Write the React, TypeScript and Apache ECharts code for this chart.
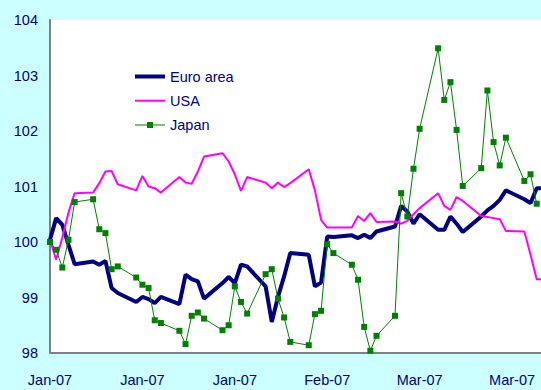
import React, { useEffect, useRef } from "react";
import * as echarts from "echarts";

const dates = [
  "2007-01-01", "2007-01-02", "2007-01-03", "2007-01-04", "2007-01-05",
  "2007-01-08", "2007-01-09", "2007-01-10", "2007-01-11", "2007-01-12",
  "2007-01-15", "2007-01-16", "2007-01-17", "2007-01-18", "2007-01-19",
  "2007-01-22", "2007-01-23", "2007-01-24", "2007-01-25", "2007-01-26",
  "2007-01-29", "2007-01-30", "2007-01-31", "2007-02-01", "2007-02-02",
  "2007-02-05", "2007-02-06", "2007-02-07", "2007-02-08", "2007-02-09",
  "2007-02-12", "2007-02-13", "2007-02-14", "2007-02-15", "2007-02-16",
  "2007-02-19", "2007-02-20", "2007-02-21", "2007-02-22", "2007-02-23",
  "2007-02-26", "2007-02-27", "2007-02-28", "2007-03-01", "2007-03-02",
  "2007-03-05", "2007-03-06", "2007-03-07", "2007-03-08", "2007-03-09",
  "2007-03-12", "2007-03-13", "2007-03-14", "2007-03-15", "2007-03-16",
  "2007-03-19", "2007-03-20", "2007-03-21", "2007-03-22",
];

const euroArea = [
  100.04, 100.43, 100.31, 99.95, 99.6,
  99.65, 99.59, 99.66, 99.17, 99.08,
  98.92, 99.01, 98.97, 98.9, 99.01,
  98.88, 99.41, 99.33, 99.29, 98.98,
  99.26, 99.37, 99.26, 99.59, 99.56,
  99.2, 98.56, 99.01, 99.38, 99.8,
  99.77, 99.2, 99.27, 100.1, 100.09,
  100.12, 100.07, 100.13, 100.07, 100.19,
  100.28, 100.65, 100.55, 100.33, 100.5,
  100.22, 100.22, 100.46, 100.33, 100.18,
  100.46, 100.57, 100.65, 100.76, 100.93,
  100.77, 100.7, 100.97, 100.97,
];

const usa = [
  100.04, 99.68, 100.08, 100.53, 100.88,
  100.89, 101.06, 101.27, 101.28, 101.04,
  100.93, 101.19, 101.0, 100.97, 100.89,
  101.17, 101.07, 101.05, 101.27, 101.54,
  101.6, 101.45, 101.22, 100.92, 101.17,
  101.07, 100.97, 101.07, 100.99, 101.06,
  101.31, 100.93, 100.4, 100.26, 100.26,
  100.26, 100.47, 100.38, 100.52, 100.36,
  100.37, 100.33, 100.38, 100.5, 100.61,
  100.88, 100.65, 100.58, 100.81, 100.74,
  100.47, 100.45, 100.43, 100.41, 100.2,
  100.19, 99.77, 99.33, 99.33,
];

const japan = [
  100.0, 99.86, 99.54, 100.04, 100.72,
  100.77, 100.23, 100.16, 99.51, 99.56,
  99.36, 99.23, 99.17, 98.59, 98.54,
  98.4, 98.16, 98.67, 98.73, 98.62,
  98.41, 98.5, 99.2, 98.92, 98.71,
  99.42, 99.51, 98.98, 98.64, 98.2,
  98.14, 98.7, 98.76, 99.96, 99.8,
  99.59, 99.32, 98.47, 98.04, 98.31,
  98.67, 100.88, 100.46, 101.32, 102.04,
  103.49, 102.56, 102.88, 102.02, 101.01,
  101.33, 102.73, 101.8, 101.38, 101.88,
  101.1, 101.22, 100.69, null,
];

const seriesNames = ["Euro area", "USA", "Japan"];
const monthNames = ["Jan", "Feb", "Mar", "Apr", "May", "Jun", "Jul", "Aug", "Sep", "Oct", "Nov", "Dec"];

const DAY = 86400000;
const ORIGIN = Date.UTC(2007, 0, 1);
const dayOf = (s: string) => {
  const [y, m, d] = s.split("-").map(Number);
  return (Date.UTC(y, m - 1, d) - ORIGIN) / DAY;
};

const FONT = "'Liberation Sans', Arial, sans-serif";
const FS = 14.5;
const NAVY = "#000080";

export default function App() {
  const ref = useRef<HTMLDivElement>(null);
  useEffect(() => {
    if (!ref.current) return;
    const chart = echarts.init(ref.current, null, { renderer: "svg" });
    const pts = (vals: (number | null)[]) => dates.map((d, i) => [dayOf(d), vals[i]]);
    chart.setOption({
      animation: false,
      backgroundColor: "#CCFFFF",
      textStyle: { fontFamily: FONT },
      grid: {
        left: 50,
        right: 0,
        top: 20,
        bottom: 37,
        show: true,
        backgroundColor: "#FFFFFF",
        borderWidth: 0,
      },
      legend: {
        orient: "vertical",
        left: 135,
        top: 69,
        padding: 0,
        itemWidth: 30,
        itemHeight: 14,
        itemGap: 9.2,
        data: [
          { name: seriesNames[0], icon: "path://M0,0 L30,0 L30,4 L0,4 Z" },
          { name: seriesNames[1], icon: "path://M0,0 L30,0 L30,2 L0,2 Z" },
          {
            name: seriesNames[2],
            icon: "path://M0,2.5 L12,2.5 L12,0 L18,0 L18,2.5 L30,2.5 L30,3.5 L18,3.5 L18,6 L12,6 L12,3.5 L0,3.5 Z",
          },
        ],
        textStyle: { fontSize: FS, color: NAVY, fontFamily: FONT },
      },
      xAxis: {
        type: "value",
        min: 0,
        max: 79.7,
        interval: 15,
        splitLine: { show: false },
        axisTick: { show: false },
        axisLine: { show: true, onZero: false, lineStyle: { color: "#808080", width: 2 } },
        axisLabel: {
          showMaxLabel: false,
          margin: 19,
          fontSize: FS,
          color: NAVY,
          fontFamily: FONT,
          formatter: (v: number) => {
            const d = new Date(ORIGIN + v * DAY);
            return monthNames[d.getUTCMonth()] + "-" + String(d.getUTCFullYear()).slice(2);
          },
        },
      },
      yAxis: {
        type: "value",
        min: 98,
        max: 104,
        interval: 1,
        splitLine: { show: false },
        axisTick: { show: false },
        axisLine: { show: true, lineStyle: { color: "#808080", width: 2 } },
        axisLabel: { margin: 12, fontSize: FS, color: NAVY, fontFamily: FONT },
      },
      series: [
        {
          name: seriesNames[0],
          type: "line",
          data: pts(euroArea),
          showSymbol: false,
          symbol: "none",
          lineStyle: { color: NAVY, width: 4 },
          itemStyle: { color: NAVY },
        },
        {
          name: seriesNames[1],
          type: "line",
          data: pts(usa),
          showSymbol: false,
          symbol: "none",
          lineStyle: { color: "#FF00FF", width: 2 },
          itemStyle: { color: "#FF00FF" },
        },
        {
          name: seriesNames[2],
          type: "line",
          data: pts(japan),
          symbol: "rect",
          symbolSize: 6,
          lineStyle: { color: "#008000", width: 1 },
          itemStyle: { color: "#008000" },
        },
      ],
    });
    return () => chart.dispose();
  }, []);
  return (
    <div
      ref={ref}
      style={{ position: "fixed", left: 0, top: 0, width: 541, height: 390 }}
    />
  );
}
